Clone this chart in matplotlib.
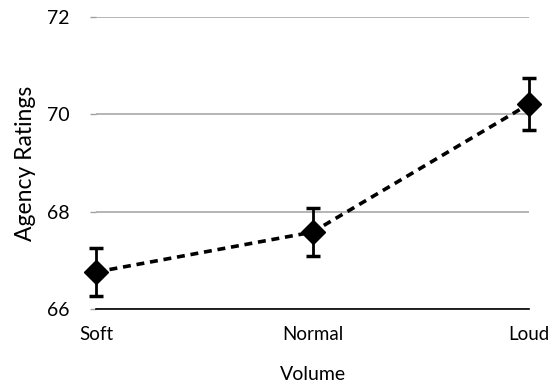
import matplotlib
matplotlib.use("Agg")
import matplotlib.pyplot as plt

categories = ["Soft", "Normal", "Loud"]
ratings = [66.76, 67.58, 70.21]
errors = [0.50, 0.50, 0.54]
yticks = [66, 68, 70, 72]

plt.rcParams['font.family'] = ['Lato', 'DejaVu Sans']

fig = plt.figure(figsize=(5.53, 3.84), dpi=100)
ax = fig.add_axes([96/553, 1-309/384, (529-96)/553, (309-17)/384])

x = list(range(len(categories)))
ax.errorbar(x, ratings, yerr=errors, fmt='D', color='black', markersize=12.5,
            ecolor='black', elinewidth=2, capsize=5, capthick=2.5, clip_on=False, zorder=4)
ax.plot(x, ratings, linestyle=(0, (2.2, 1.6)), color='black', linewidth=2.6, clip_on=False, zorder=3)

ax.set_xlim(0, 2)
ax.set_ylim(66, 72)
ax.set_yticks(yticks)
ax.set_yticklabels([str(v) for v in yticks], fontsize=14)
ax.set_xticks(x)
ax.set_xticklabels(categories, fontsize=13.5)
ax.tick_params(axis='x', length=0, pad=12)
ax.tick_params(axis='y', length=4, color='#a0a0a0', width=1, pad=15)
ax.yaxis.grid(True, color='#a8a8a8', linewidth=1.2)
ax.set_axisbelow(True)
for s in ['left', 'right', 'top']:
    ax.spines[s].set_visible(False)
ax.spines['bottom'].set_color('black')
ax.spines['bottom'].set_linewidth(1.2)

ax.set_xlabel("Volume", fontsize=14, labelpad=17)
ax.set_ylabel("Agency Ratings", fontsize=16.5, labelpad=8)

fig.savefig("out.png", dpi=100)
